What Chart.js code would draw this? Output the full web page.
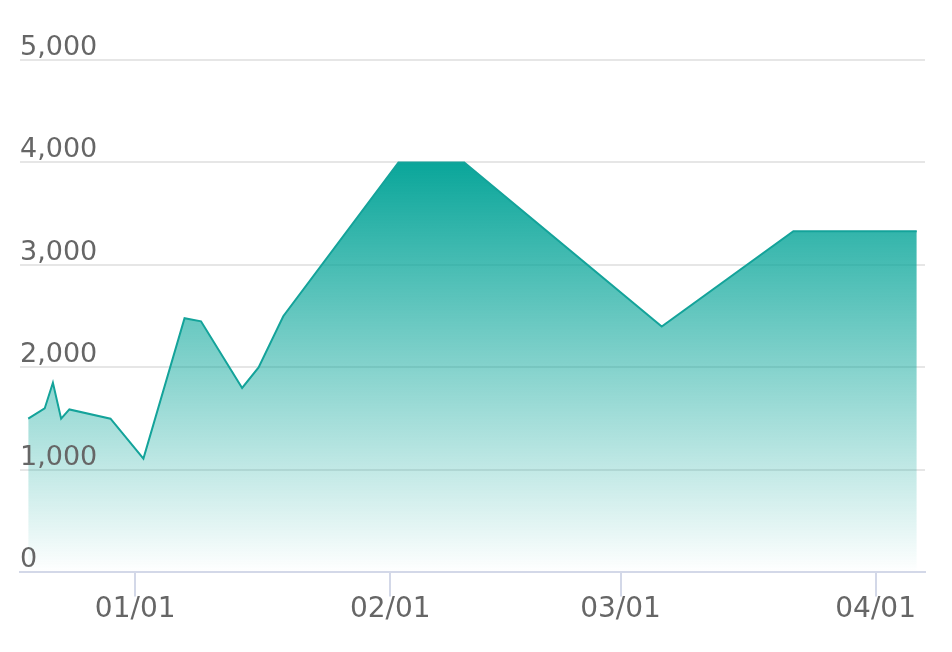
<!DOCTYPE html>
<html lang="en">

<head>
    <meta charset="UTF-8">
    <title>Area Chart</title>
    <script src="https://cdn.jsdelivr.net/npm/chart.js"></script>
</head>

<style>
    body {
        margin: 0;
        background: #fff;
    }
    #box {
        width: 952px;
        height: 652px;
    }
</style>

<body>
    <div id="box">
        <canvas id="myChart"></canvas>
    </div>

    <script>
        // dates (mm/dd), Dec -> previous year
        const dates = ['12/19', '12/21', '12/22', '12/23', '12/24', '12/29', '01/02', '01/07', '01/09',
            '01/14', '01/16', '01/19', '02/02', '02/10', '03/06', '03/22', '04/06'];
        const values = [1500, 1600, 1850, 1500, 1590, 1500, 1110, 2480, 2450,
            1800, 2000, 2500, 4000, 4000, 2400, 3330, 3330];
        const xTickLabels = ['01/01', '02/01', '03/01', '04/01'];
        const xRange = ['12/18', '04/07'];
        const yTicks = [0, 1000, 2000, 3000, 4000, 5000];

        const teal = '#14a39a';
        const textColor = '#666';
        const fontFamily = '"DejaVu Sans", Verdana, sans-serif';

        // days since Jan 1
        function dayOf(s) {
            const [m, d] = s.split('/').map(Number);
            const y = m === 12 ? 2018 : 2019;
            return (Date.UTC(y, m - 1, d) - Date.UTC(2019, 0, 1)) / 86400000;
        }

        const points = dates.map((d, i) => ({ x: dayOf(d), y: values[i] }));

        const ctx = document.getElementById('myChart').getContext('2d');

        const chart = new Chart(ctx, {
            type: 'line',
            data: {
                datasets: [{
                    data: points,
                    borderColor: teal,
                    borderWidth: 2,
                    pointRadius: 0,
                    tension: 0,
                    fill: 'origin',
                    backgroundColor: (c) => {
                        const { chart } = c;
                        const { chartArea, scales } = chart;
                        if (!chartArea) return null;
                        const top = scales.y.getPixelForValue(Math.max(...values));
                        const g = chart.ctx.createLinearGradient(0, top, 0, chartArea.bottom);
                        g.addColorStop(0, 'rgba(10,166,154,1)');
                        g.addColorStop(1, 'rgba(10,166,154,0)');
                        return g;
                    }
                }]
            },
            options: {
                responsive: true,
                maintainAspectRatio: false,
                animation: false,
                layout: {
                    padding: { left: 20, right: 27, top: 60, bottom: 28 }
                },
                plugins: {
                    legend: { display: false },
                    tooltip: { enabled: false }
                },
                scales: {
                    x: {
                        type: 'linear',
                        min: dayOf(xRange[0]),
                        max: dayOf(xRange[1]),
                        afterBuildTicks: (scale) => {
                            scale.ticks = xTickLabels.map(l => ({ value: dayOf(l) }));
                        },
                        grid: {
                            drawOnChartArea: false,
                            drawTicks: true,
                            tickLength: 24,
                            color: '#d3d8e8',
                            lineWidth: 2
                        },
                        border: {
                            color: '#d3d8e8',
                            width: 2
                        },
                        ticks: {
                            autoSkip: false,
                            maxRotation: 0,
                            padding: -3,
                            color: textColor,
                            font: { family: fontFamily, size: 28 },
                            callback: (v, i) => xTickLabels[i]
                        }
                    },
                    y: {
                        min: yTicks[0],
                        max: yTicks[yTicks.length - 1],
                        afterBuildTicks: (scale) => {
                            scale.ticks = yTicks.map(v => ({ value: v }));
                        },
                        grid: {
                            drawTicks: false,
                            color: '#e6e6e6',
                            lineWidth: 2
                        },
                        border: { display: false },
                        ticks: {
                            z: 1, // labels over the area, grid stays under it
                            mirror: true,
                            padding: 0,
                            labelOffset: -12,
                            color: textColor,
                            font: { family: fontFamily, size: 27 },
                            callback: (v) => v.toLocaleString('en-US')
                        }
                    }
                }
            }
        });
    </script>
</body>

</html>
